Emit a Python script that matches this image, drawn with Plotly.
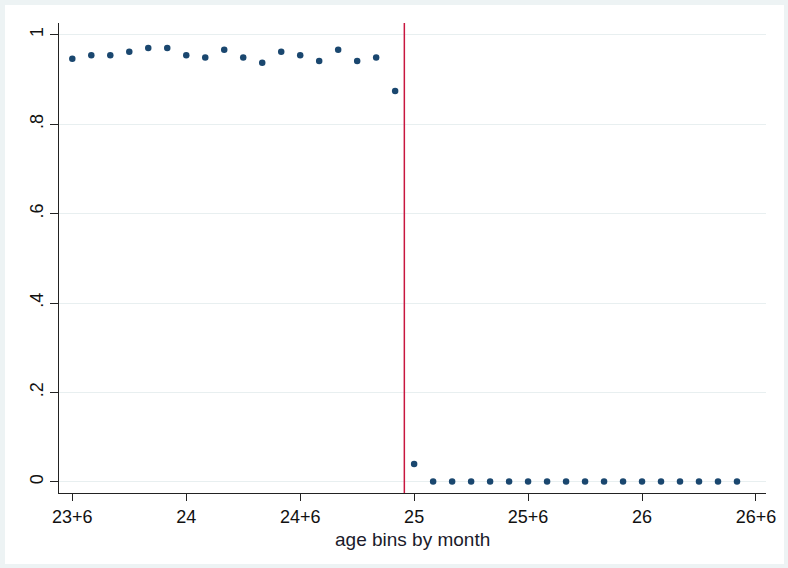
import plotly.graph_objects as go

# Age bins (in years), monthly bins
left_x = [23.5 + k / 12 for k in range(18)]
right_x = [25 + k / 12 for k in range(18)]
left_y = [0.946, 0.954, 0.954, 0.962, 0.970, 0.970, 0.954, 0.949, 0.966,
          0.949, 0.937, 0.962, 0.954, 0.941, 0.966, 0.941, 0.949, 0.874]
right_y = [0.040, 0.001, 0.001, 0.001, 0.001, 0.001, 0.001, 0.001, 0.001,
           0.001, 0.001, 0.001, 0.001, 0.001, 0.001, 0.001, 0.001, 0.001]

x_vals = left_x + right_x
y_vals = left_y + right_y

xtick_vals = [23.5, 24, 24.5, 25, 25.5, 26, 26.5]
xtick_text = ["23+6", "24", "24+6", "25", "25+6", "26", "26+6"]
ytick_vals = [0, 0.2, 0.4, 0.6, 0.8, 1]
ytick_text = ["0", ".2", ".4", ".6", ".8", "1"]
x_title = "age bins by month"
cutoff = 24.957

W, H = 788, 568
ml, mr, mt, mb = 59, 22, 23, 75
pw, ph = W - ml - mr, H - mt - mb

def px_to_paper_x(px):
    return (px - ml) / pw

def px_to_paper_y(py):
    return (H - mb - py) / ph

FONT = "Liberation Sans, Arial, sans-serif"

fig = go.Figure()
fig.add_trace(go.Scatter(
    x=x_vals, y=y_vals, mode="markers",
    marker=dict(color="#1a476f", size=6.5, line=dict(width=0)),
    showlegend=False, cliponaxis=False,
))

fig.add_shape(type="rect", xref="paper", yref="paper",
              x0=px_to_paper_x(5), x1=px_to_paper_x(784),
              y0=px_to_paper_y(564), y1=px_to_paper_y(5),
              fillcolor="white", line=dict(width=0), layer="below")
fig.add_shape(type="line", xref="x", yref="paper",
              x0=cutoff, x1=cutoff, y0=0, y1=1,
              line=dict(color="#c8163f", width=1.5), layer="above")

fig.add_annotation(text=x_title, xref="paper", yref="paper",
                   x=0.5, y=px_to_paper_y(539), xanchor="center", yanchor="middle",
                   showarrow=False, font=dict(family=FONT, size=19, color="#1a1a2a"))

fig.update_layout(
    width=W, height=H,
    margin=dict(l=ml, r=mr, t=mt, b=mb),
    paper_bgcolor="#edf3f4",
    plot_bgcolor="white",
    font=dict(family=FONT, size=18, color="#111"),
    xaxis=dict(
        range=[23.4416, 26.544],
        tickvals=xtick_vals, ticktext=xtick_text,
        showgrid=False, zeroline=False,
        showline=True, linecolor="#222", linewidth=1.3,
        ticks="outside", ticklen=7, tickwidth=1.3, tickcolor="#222",
        tickfont=dict(family=FONT, size=18, color="#111"),
    ),
    yaxis=dict(
        range=[-0.0246, 1.026],
        tickvals=ytick_vals, ticktext=ytick_text,
        tickangle=-90,
        showgrid=True, gridcolor="#e8eff0", gridwidth=1.2,
        zeroline=False,
        showline=True, linecolor="#222", linewidth=1.3,
        ticks="outside", ticklen=8, tickwidth=1.3, tickcolor="#222",
        tickfont=dict(family=FONT, size=18, color="#111"),
    ),
)

fig.write_html("out.html", config={"displayModeBar": False},
               post_script="document.body.style.margin='0';")
